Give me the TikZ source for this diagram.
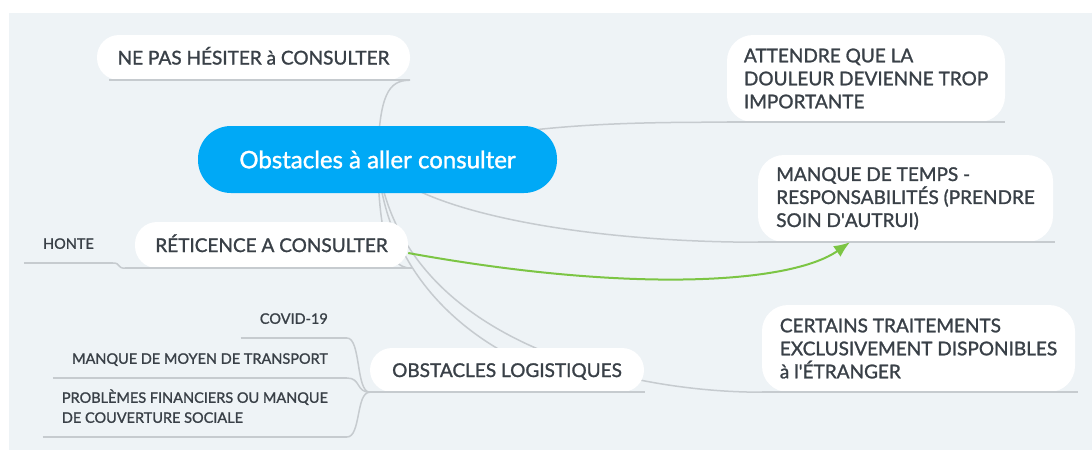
\documentclass[tikz,border=0pt]{standalone}
\usepackage{fontspec}
\setmainfont{Lato}[FakeBold=1.3]
\usetikzlibrary{arrows.meta,backgrounds}

\definecolor{mBack}{HTML}{EEF3F6}
\definecolor{mBlue}{HTML}{00A9F6}
\definecolor{mText}{HTML}{394047}
\definecolor{mLine}{HTML}{C6CBCF}
\definecolor{mGreen}{HTML}{7CC544}

\tikzset{
  topic/.style={fill=white, text=mText, rounded corners=22pt, inner sep=0pt,
    font=\fontsize{19}{23}\selectfont, text height=14pt, text depth=0pt},
  bigtopic/.style={fill=white, text=mText, rounded corners=26pt, inner sep=0pt,
    font=\fontsize{19}{23}\selectfont, align=left, minimum height=87pt},
  subtopic/.style={text=mText, font=\fontsize{14.5}{20}\selectfont, inner xsep=19pt,
    inner ysep=14pt, text depth=0pt, anchor=south east},
  branch/.style={draw=mLine, line width=1.5pt},
  link/.style={draw=mGreen, line width=2pt, -{Latex[length=16pt,width=13pt]}},
}

\begin{document}
\begin{tikzpicture}[x=1pt,y=-1pt]
  \useasboundingbox (0,0) rectangle (1092,450);

  % central topic
  \node[fill=mBlue, text=white, rounded corners=33pt, minimum width=359pt, minimum height=67pt,
    font=\fontsize{24}{28}\selectfont] (main) at (377.5,159.5) {Obstacles à aller consulter};

  % topics on the left
  \node[topic, minimum width=313pt, minimum height=45pt] (nepas) at (253.5,57.5) {NE PAS HÉSITER à CONSULTER};
  \node[topic, minimum width=273pt, minimum height=46pt] (reticence) at (271.5,245) {RÉTICENCE A CONSULTER};
  \node[topic, minimum width=274pt, minimum height=44pt] (logist) at (507,370) {OBSTACLES LOGISTIQUES};

  % topics on the right
  \node[bigtopic, minimum width=278pt] (attendre) at (866,78.5) {ATTENDRE QUE LA\\DOULEUR DEVIENNE TROP\\IMPORTANTE};
  \node[bigtopic, minimum width=295pt] (temps) at (905.5,198.5) {MANQUE DE TEMPS -\\RESPONSABILITÉS (PRENDRE\\SOIN D\textquotesingle AUTRUI)};
  \node[bigtopic, minimum width=313pt] (certains) at (918.5,348.5) {CERTAINS TRAITEMENTS\\EXCLUSIVEMENT DISPONIBLES\\à l\textquotesingle ÉTRANGER};

  % subtopics
  \node[subtopic] (honte) at (113,263) {HONTE};
  \node[subtopic] (covid) at (347,338) {COVID-19};
  \node[subtopic] (moyen) at (347,378) {MANQUE DE MOYEN DE TRANSPORT};
  \node[subtopic, align=left] (finance) at (347,437) {PROBLÈMES FINANCIERS OU MANQUE\\DE COUVERTURE SOCIALE};

  \begin{scope}[on background layer]
    \fill[white] (0,0) rectangle (1092,450);
    \fill[mBack] (9,13) rectangle (1092,450);
    % branches from the central topic
    \draw[branch] (main.center) .. controls +(2,-65) and +(-22,0) .. (nepas.south east);
    \draw[branch] (main.center) .. controls +(130,-35) and +(-120,0) .. (attendre.south west);
    \draw[branch] (main.center) .. controls +(30,50) and +(-180,0) .. (temps.south west);
    \draw[branch] (main.center) .. controls +(2,95) and +(-18,0) .. ([xshift=4pt]reticence.south east);
    \draw[branch] (main.center) .. controls +(12,170) and +(-85,0) .. (logist.south east);
    \draw[branch] (main.center) .. controls +(22,180) and +(-140,0) .. (certains.south west);
  \end{scope}

  % underlines
  \draw[branch] ([xshift=12pt]nepas.south west) -- (nepas.south east);
  \draw[branch] (attendre.south west) -- (attendre.south east);
  \draw[branch] (temps.south west) -- ([xshift=2pt]temps.south east);
  \draw[branch] (certains.south west) -- ([xshift=3pt]certains.south east);
  \draw[branch] ([xshift=-10pt]reticence.south west) -- ([xshift=4pt]reticence.south east);
  \draw[branch] (logist.south west) -- ([xshift=1pt]logist.south east);
  \foreach \n in {honte,covid,moyen,finance}
    \draw[branch] (\n.south west) -- (\n.south east);

  % branches to the subtopics
  \draw[branch] ([xshift=-10pt]reticence.south west) .. controls +(-8,0) and +(8,0) .. (honte.south east);
  \foreach \n in {covid,moyen,finance}
    \draw[branch] (logist.south west) .. controls +(-14,0) and +(14,0) .. (\n.south east);

  % relation
  \draw[link] ([yshift=-8pt]reticence.east) .. controls +(220,40) and +(-60,42) .. ([xshift=-55.5pt]temps.south);
\end{tikzpicture}
\end{document}
